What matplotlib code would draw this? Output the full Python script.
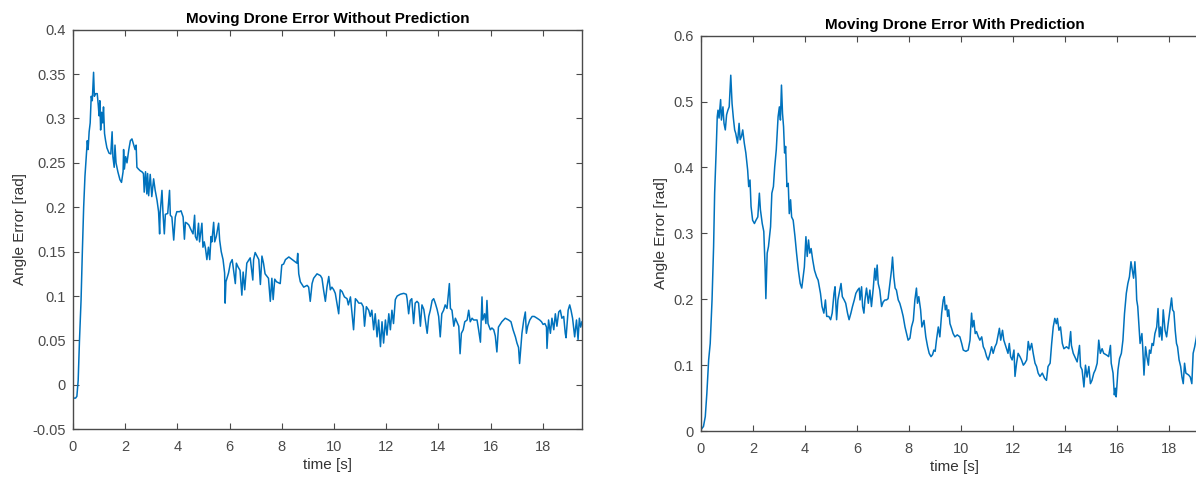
import matplotlib
matplotlib.use("Agg")
import matplotlib.pyplot as plt
import numpy as np

plt.rcParams['font.family'] = ['Liberation Sans', 'DejaVu Sans']

# ---- data ----
t_no_pred = [
    0.00, 0.10, 0.15, 0.20, 0.25, 0.31, 0.36, 0.41, 0.46, 0.51, 0.55, 0.58, 0.62, 0.66, 0.70, 0.74,
    0.79, 0.82, 0.87, 0.93, 0.97, 1.00, 1.03, 1.06, 1.10, 1.14, 1.17, 1.21, 1.25, 1.30, 1.38, 1.45,
    1.50, 1.53, 1.58, 1.61, 1.65, 1.72, 1.80, 1.86, 1.92, 1.94, 1.97, 2.02, 2.07, 2.14, 2.20, 2.26,
    2.32, 2.38, 2.42, 2.45, 2.51, 2.58, 2.64, 2.70, 2.73, 2.78, 2.83, 2.86, 2.90, 2.96, 3.02, 3.09,
    3.15, 3.22, 3.28, 3.32, 3.34, 3.41, 3.45, 3.50, 3.54, 3.63, 3.70, 3.73, 3.79, 3.86, 3.92, 3.98,
    4.08, 4.14, 4.22, 4.27, 4.31, 4.37, 4.44, 4.50, 4.60, 4.66, 4.69, 4.75, 4.81, 4.85, 4.94, 4.98,
    5.03, 5.08, 5.13, 5.19, 5.24, 5.29, 5.32, 5.39, 5.43, 5.49, 5.58, 5.62, 5.68, 5.75, 5.81, 5.83,
    5.86, 5.90, 5.96, 6.03, 6.10, 6.22, 6.26, 6.32, 6.40, 6.47, 6.52, 6.58, 6.66, 6.79, 6.89, 6.92,
    6.98, 7.05, 7.12, 7.18, 7.24, 7.30, 7.36, 7.49, 7.56, 7.62, 7.67, 7.73, 7.80, 7.94, 8.00, 8.07,
    8.14, 8.27, 8.40, 8.58, 8.61, 8.65, 8.71, 8.84, 8.97, 9.03, 9.09, 9.16, 9.22, 9.35, 9.48, 9.54,
    9.60, 9.67, 9.73, 9.80, 9.86, 9.92, 9.99, 10.05, 10.18, 10.24, 10.31, 10.40, 10.50, 10.55, 10.63, 10.75,
    10.82, 10.88, 10.95, 11.05, 11.12, 11.17, 11.24, 11.33, 11.39, 11.45, 11.52, 11.58, 11.65, 11.71, 11.78, 11.84,
    11.90, 11.97, 12.03, 12.10, 12.16, 12.22, 12.28, 12.35, 12.42, 12.54, 12.67, 12.77, 12.80, 12.86, 12.92, 12.98,
    13.05, 13.11, 13.18, 13.24, 13.31, 13.37, 13.44, 13.57, 13.63, 13.69, 13.76, 13.82, 13.88, 13.95, 14.01, 14.07,
    14.13, 14.20, 14.26, 14.33, 14.42, 14.46, 14.52, 14.59, 14.65, 14.78, 14.83, 14.88, 14.95, 15.01, 15.10, 15.16,
    15.22, 15.29, 15.35, 15.48, 15.54, 15.61, 15.64, 15.67, 15.70, 15.77, 15.82, 15.86, 15.90, 15.99, 16.05, 16.12,
    16.18, 16.24, 16.30, 16.43, 16.56, 16.69, 16.78, 16.86, 16.95, 17.01, 17.07, 17.11, 17.16, 17.20, 17.27, 17.33,
    17.37, 17.42, 17.50, 17.59, 17.67, 17.78, 17.88, 17.95, 18.01, 18.08, 18.14, 18.16, 18.22, 18.29, 18.35, 18.42,
    18.48, 18.54, 18.61, 18.67, 18.73, 18.80, 18.86, 18.89, 18.97, 19.03, 19.08, 19.14, 19.22, 19.29, 19.35, 19.40,
    19.45, 19.50,
]
err_no_pred = [
    -0.015, -0.015, -0.013, 0.005, 0.050, 0.095, 0.150, 0.200, 0.235, 0.257, 0.275, 0.265, 0.285, 0.295, 0.325, 0.320,
    0.352, 0.325, 0.328, 0.328, 0.315, 0.303, 0.320, 0.287, 0.307, 0.295, 0.313, 0.283, 0.275, 0.267, 0.261, 0.260,
    0.285, 0.257, 0.245, 0.270, 0.250, 0.240, 0.231, 0.228, 0.240, 0.265, 0.243, 0.257, 0.250, 0.265, 0.275, 0.277,
    0.271, 0.265, 0.270, 0.245, 0.243, 0.241, 0.240, 0.238, 0.217, 0.240, 0.215, 0.238, 0.213, 0.237, 0.212, 0.232,
    0.219, 0.208, 0.195, 0.170, 0.193, 0.219, 0.193, 0.170, 0.192, 0.193, 0.219, 0.191, 0.189, 0.163, 0.189, 0.195,
    0.195, 0.196, 0.189, 0.164, 0.183, 0.182, 0.180, 0.176, 0.170, 0.191, 0.167, 0.163, 0.182, 0.161, 0.182, 0.155,
    0.161, 0.153, 0.141, 0.155, 0.141, 0.167, 0.161, 0.183, 0.161, 0.167, 0.182, 0.163, 0.150, 0.141, 0.126, 0.092,
    0.116, 0.120, 0.126, 0.137, 0.141, 0.114, 0.137, 0.133, 0.129, 0.101, 0.127, 0.107, 0.137, 0.143, 0.118, 0.141,
    0.149, 0.145, 0.141, 0.113, 0.145, 0.137, 0.125, 0.120, 0.094, 0.120, 0.096, 0.119, 0.116, 0.114, 0.135, 0.136,
    0.141, 0.144, 0.141, 0.137, 0.148, 0.125, 0.116, 0.110, 0.112, 0.110, 0.094, 0.114, 0.120, 0.125, 0.123, 0.120,
    0.107, 0.094, 0.110, 0.122, 0.107, 0.110, 0.107, 0.103, 0.080, 0.107, 0.105, 0.099, 0.097, 0.090, 0.099, 0.062,
    0.097, 0.095, 0.092, 0.092, 0.088, 0.066, 0.088, 0.084, 0.077, 0.084, 0.062, 0.080, 0.054, 0.073, 0.043, 0.071,
    0.047, 0.073, 0.056, 0.080, 0.062, 0.084, 0.069, 0.096, 0.100, 0.102, 0.103, 0.102, 0.097, 0.080, 0.095, 0.097,
    0.069, 0.092, 0.094, 0.092, 0.066, 0.090, 0.085, 0.058, 0.077, 0.084, 0.095, 0.097, 0.092, 0.085, 0.077, 0.054,
    0.080, 0.084, 0.090, 0.086, 0.114, 0.086, 0.084, 0.066, 0.075, 0.066, 0.035, 0.058, 0.062, 0.071, 0.073, 0.084,
    0.071, 0.075, 0.073, 0.073, 0.062, 0.048, 0.073, 0.099, 0.073, 0.080, 0.069, 0.095, 0.069, 0.062, 0.064, 0.062,
    0.055, 0.037, 0.065, 0.071, 0.075, 0.073, 0.071, 0.062, 0.054, 0.047, 0.042, 0.024, 0.043, 0.058, 0.073, 0.082,
    0.058, 0.066, 0.073, 0.077, 0.077, 0.075, 0.073, 0.071, 0.068, 0.069, 0.065, 0.041, 0.073, 0.058, 0.075, 0.062,
    0.080, 0.066, 0.082, 0.084, 0.075, 0.077, 0.058, 0.053, 0.084, 0.090, 0.084, 0.075, 0.054, 0.073, 0.051, 0.075,
    0.065, 0.071,
]

t_pred = [
    0.00, 0.10, 0.17, 0.23, 0.30, 0.36, 0.43, 0.49, 0.53, 0.59, 0.63, 0.66, 0.70, 0.76, 0.79, 0.85,
    0.89, 0.94, 0.99, 1.04, 1.09, 1.15, 1.20, 1.25, 1.30, 1.34, 1.41, 1.47, 1.51, 1.56, 1.61, 1.67,
    1.73, 1.80, 1.84, 1.89, 1.93, 1.99, 2.06, 2.12, 2.19, 2.25, 2.29, 2.36, 2.42, 2.47, 2.50, 2.55,
    2.60, 2.68, 2.73, 2.79, 2.84, 2.90, 2.97, 3.02, 3.06, 3.10, 3.14, 3.18, 3.22, 3.26, 3.31, 3.36,
    3.40, 3.45, 3.49, 3.55, 3.62, 3.68, 3.75, 3.82, 3.88, 3.95, 3.98, 4.04, 4.09, 4.14, 4.19, 4.24,
    4.30, 4.37, 4.45, 4.51, 4.60, 4.66, 4.73, 4.79, 4.84, 4.92, 4.99, 5.05, 5.12, 5.16, 5.22, 5.27,
    5.34, 5.39, 5.44, 5.51, 5.57, 5.64, 5.70, 5.77, 5.83, 5.90, 5.96, 6.03, 6.09, 6.12, 6.18, 6.22,
    6.27, 6.31, 6.37, 6.44, 6.50, 6.56, 6.63, 6.69, 6.73, 6.78, 6.82, 6.88, 6.95, 7.01, 7.08, 7.14,
    7.20, 7.27, 7.33, 7.37, 7.42, 7.47, 7.52, 7.59, 7.65, 7.72, 7.78, 7.85, 7.91, 7.97, 8.04, 8.10,
    8.17, 8.23, 8.29, 8.33, 8.38, 8.45, 8.50, 8.58, 8.65, 8.72, 8.78, 8.85, 8.91, 8.96, 9.01, 9.06,
    9.13, 9.19, 9.26, 9.32, 9.36, 9.40, 9.45, 9.49, 9.53, 9.58, 9.64, 9.70, 9.77, 9.86, 9.96, 10.03,
    10.09, 10.19, 10.28, 10.35, 10.41, 10.45, 10.50, 10.55, 10.60, 10.67, 10.73, 10.80, 10.86, 10.92, 10.99, 11.05,
    11.12, 11.18, 11.24, 11.31, 11.37, 11.44, 11.48, 11.53, 11.60, 11.65, 11.73, 11.81, 11.86, 11.91, 11.97, 12.04,
    12.08, 12.14, 12.20, 12.27, 12.33, 12.40, 12.46, 12.53, 12.59, 12.65, 12.72, 12.78, 12.85, 12.91, 12.97, 13.04,
    13.13, 13.22, 13.29, 13.35, 13.43, 13.49, 13.55, 13.61, 13.67, 13.71, 13.77, 13.83, 13.90, 13.96, 14.06, 14.15,
    14.22, 14.25, 14.32, 14.41, 14.47, 14.56, 14.60, 14.66, 14.73, 14.79, 14.85, 14.92, 14.98, 15.04, 15.11, 15.17,
    15.24, 15.30, 15.36, 15.43, 15.49, 15.62, 15.68, 15.75, 15.78, 15.85, 15.90, 15.94, 15.97, 16.04, 16.10, 16.17,
    16.23, 16.29, 16.36, 16.42, 16.48, 16.54, 16.59, 16.64, 16.69, 16.73, 16.76, 16.80, 16.84, 16.89, 16.96, 16.99,
    17.04, 17.10, 17.15, 17.21, 17.25, 17.30, 17.35, 17.40, 17.46, 17.53, 17.58, 17.63, 17.68, 17.73, 17.78, 17.85,
    17.91, 17.97, 18.04, 18.10, 18.14, 18.19, 18.24, 18.29, 18.33, 18.39, 18.45, 18.50, 18.55, 18.60, 18.65, 18.76,
    18.82, 18.88, 18.93, 18.99, 19.06, 19.12, 19.16, 19.25,
]
err_pred = [
    0.002, 0.007, 0.022, 0.057, 0.108, 0.133, 0.199, 0.280, 0.361, 0.427, 0.477, 0.487, 0.475, 0.503, 0.472, 0.492,
    0.467, 0.457, 0.480, 0.487, 0.492, 0.540, 0.497, 0.475, 0.457, 0.452, 0.437, 0.467, 0.442, 0.447, 0.457, 0.437,
    0.422, 0.396, 0.371, 0.381, 0.341, 0.320, 0.315, 0.320, 0.325, 0.361, 0.336, 0.315, 0.303, 0.249, 0.201, 0.270,
    0.280, 0.310, 0.361, 0.371, 0.401, 0.427, 0.477, 0.492, 0.472, 0.525, 0.482, 0.462, 0.422, 0.432, 0.371, 0.376,
    0.330, 0.351, 0.325, 0.320, 0.295, 0.270, 0.244, 0.224, 0.217, 0.239, 0.249, 0.295, 0.265, 0.290, 0.270, 0.277,
    0.260, 0.244, 0.234, 0.229, 0.209, 0.189, 0.179, 0.199, 0.174, 0.174, 0.169, 0.179, 0.209, 0.219, 0.169, 0.199,
    0.214, 0.224, 0.204, 0.199, 0.194, 0.179, 0.169, 0.179, 0.189, 0.199, 0.209, 0.214, 0.217, 0.199, 0.219, 0.189,
    0.179, 0.199, 0.217, 0.194, 0.214, 0.189, 0.217, 0.247, 0.229, 0.252, 0.224, 0.214, 0.189, 0.196, 0.199, 0.199,
    0.201, 0.224, 0.244, 0.264, 0.234, 0.217, 0.214, 0.199, 0.194, 0.184, 0.174, 0.158, 0.148, 0.138, 0.141, 0.158,
    0.168, 0.199, 0.217, 0.194, 0.204, 0.184, 0.158, 0.168, 0.143, 0.128, 0.118, 0.113, 0.116, 0.123, 0.121, 0.138,
    0.158, 0.143, 0.179, 0.199, 0.204, 0.184, 0.191, 0.174, 0.184, 0.163, 0.156, 0.148, 0.143, 0.146, 0.143, 0.133,
    0.123, 0.121, 0.123, 0.138, 0.179, 0.158, 0.168, 0.148, 0.151, 0.143, 0.138, 0.143, 0.128, 0.123, 0.113, 0.108,
    0.118, 0.128, 0.118, 0.128, 0.133, 0.148, 0.156, 0.138, 0.153, 0.138, 0.128, 0.118, 0.133, 0.113, 0.108, 0.123,
    0.083, 0.103, 0.118, 0.113, 0.108, 0.100, 0.103, 0.108, 0.136, 0.123, 0.133, 0.118, 0.103, 0.098, 0.088, 0.083,
    0.088, 0.080, 0.077, 0.098, 0.103, 0.133, 0.158, 0.171, 0.163, 0.171, 0.153, 0.158, 0.133, 0.125, 0.128, 0.125,
    0.151, 0.130, 0.118, 0.110, 0.105, 0.130, 0.098, 0.093, 0.067, 0.100, 0.082, 0.098, 0.072, 0.077, 0.088, 0.093,
    0.103, 0.138, 0.118, 0.125, 0.118, 0.115, 0.113, 0.130, 0.103, 0.088, 0.055, 0.065, 0.052, 0.093, 0.110, 0.118,
    0.138, 0.178, 0.209, 0.224, 0.234, 0.257, 0.244, 0.232, 0.257, 0.232, 0.199, 0.189, 0.163, 0.133, 0.148, 0.128,
    0.085, 0.128, 0.113, 0.100, 0.123, 0.118, 0.133, 0.130, 0.148, 0.158, 0.186, 0.143, 0.158, 0.138, 0.184, 0.153,
    0.143, 0.163, 0.184, 0.202, 0.184, 0.181, 0.153, 0.133, 0.128, 0.108, 0.098, 0.082, 0.072, 0.103, 0.088, 0.085,
    0.082, 0.072, 0.118, 0.128, 0.143, 0.168, 0.178, 0.200,
]

x_ticks = [0, 2, 4, 6, 8, 10, 12, 14, 16, 18]
y_ticks_no_pred = [-0.05, 0, 0.05, 0.1, 0.15, 0.2, 0.25, 0.3, 0.35, 0.4]
y_ticks_pred = [0, 0.1, 0.2, 0.3, 0.4, 0.5, 0.6]

LINE_COLOR = "#0072BD"
AXIS_COLOR = "#4a4a4a"


def style_axes(ax, title, yticks, ylim):
    ax.set_xlim(0, 19.5)
    ax.set_ylim(*ylim)
    ax.set_xticks(x_ticks)
    ax.set_yticks(yticks)
    ax.set_yticklabels([f"{v:g}" for v in yticks])
    ax.tick_params(direction="in", length=4, width=0.8, top=True, right=True,
                   labelsize=10.5, colors=AXIS_COLOR, labelcolor=AXIS_COLOR)
    ax.tick_params(axis="x", pad=8)
    ax.tick_params(axis="y", pad=5)
    for sp in ax.spines.values():
        sp.set_color(AXIS_COLOR)
        sp.set_linewidth(1.0)
    ax.set_title(title, fontsize=11, fontweight="bold", pad=5)
    ax.set_xlabel("time [s]", fontsize=11, color="#333333", labelpad=3)
    ax.set_ylabel("Angle Error [rad]", fontsize=11, color="#333333", labelpad=4)


fig = plt.figure(figsize=(11.96, 4.79), dpi=100)
ax1 = fig.add_axes([0.061, 0.104, 0.4256, 0.834])
ax2 = fig.add_axes([0.586, 0.100, 0.4240, 0.8255])

ax1.plot(t_no_pred, err_no_pred, color=LINE_COLOR, linewidth=1.1)
ax2.plot(t_pred, err_pred, color=LINE_COLOR, linewidth=1.1)

style_axes(ax1, "Moving Drone Error Without Prediction", y_ticks_no_pred, (-0.05, 0.4))
style_axes(ax2, "Moving Drone Error With Prediction", y_ticks_pred, (0, 0.6))

fig.savefig("out.png", dpi=100)
